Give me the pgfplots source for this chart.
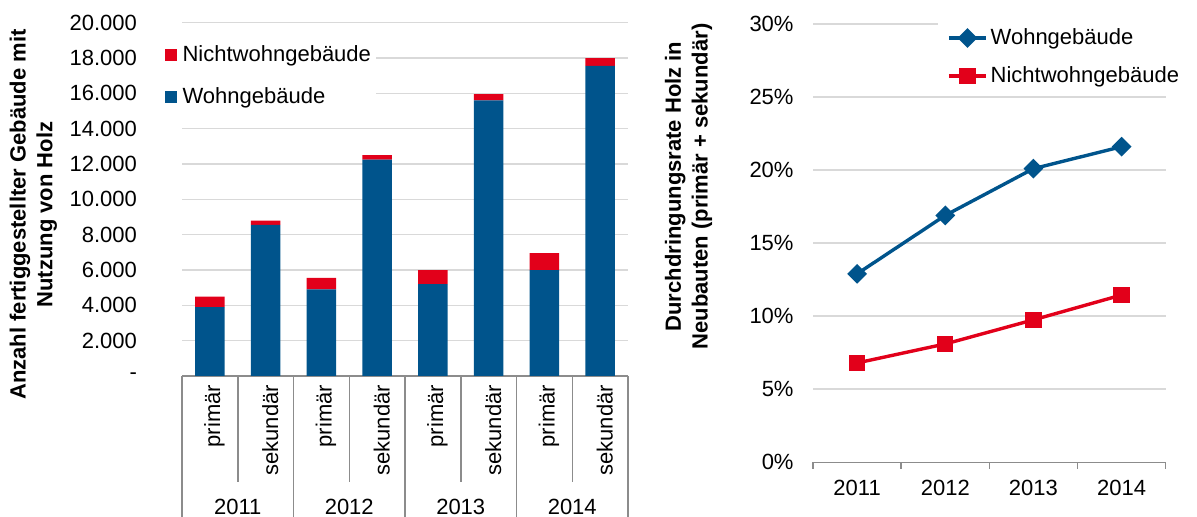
\documentclass[border=0pt]{standalone}
\usepackage{fontspec}
\setmainfont{Liberation Sans}
\usepackage{pgfplots}
\pgfplotsset{compat=1.18}
\definecolor{bblue}{RGB}{0,84,140}
\definecolor{rred}{RGB}{226,0,26}
\definecolor{gridc}{RGB}{217,217,217}
\definecolor{axc}{RGB}{140,140,140}

\begin{document}
\begin{tikzpicture}[font=\fontsize{11}{13}\selectfont]
\useasboundingbox (0,0) rectangle (598.5pt,258.5pt);

% ---------- left: stacked bars ----------
\begin{axis}[
  at={(91pt,70.5pt)}, anchor=south west,
  scale only axis, width=223pt, height=176.65pt,
  xmin=-0.5, xmax=7.5, ymin=0, ymax=20000,
  ybar stacked, bar width=14.75pt,
  axis x line*=bottom, axis y line*=left,
  x axis line style={draw=axc, line width=0.75pt, -},
  y axis line style={draw=none},
  major tick length=0pt,
  scaled y ticks=false,
  xtick={0,...,7},
  xticklabels={primär,sekundär,primär,sekundär,primär,sekundär,primär,sekundär},
  xticklabel style={rotate=90, anchor=east, yshift=-2.3pt, xshift=-1pt},
  ytick={0,2000,...,20000},
  yticklabels={-\hspace{6pt},2.000,4.000,6.000,8.000,10.000,12.000,14.000,16.000,18.000,20.000},
  yticklabel style={xshift=-19pt},
  ymajorgrids, grid style={draw=gridc, line width=0.75pt},
  clip=false,
  legend image code/.code={\path[#1, draw=none] (0pt,-2.9pt) rectangle (5.8pt,2.9pt);},
  reverse legend, legend cell align=left,
  legend style={at={(-0.0493,0.951)}, anchor=north west, draw=none, fill=white,
    inner sep=2.5pt, row sep=11.5pt, nodes={inner sep=0pt},
    /tikz/every odd column/.append style={column sep=2.8pt}},
]
\addplot[fill=bblue, draw=none] coordinates {(0,3900) (1,8550) (2,4900) (3,12250) (4,5200) (5,15600) (6,6000) (7,17550)};
\addlegendentry{Wohngebäude}
\addplot[fill=rred, draw=none] coordinates {(0,600) (1,250) (2,650) (3,250) (4,800) (5,350) (6,950) (7,450)};
\addlegendentry{Nichtwohngebäude}
\pgfplotsinvokeforeach{-0.5,1.5,3.5,5.5,7.5}{\draw[axc, line width=0.75pt] (axis cs:#1,0) -- ([yshift=-71pt]axis cs:#1,0);}
\pgfplotsinvokeforeach{0.5,2.5,4.5,6.5}{\draw[axc, line width=0.75pt] (axis cs:#1,0) -- ([yshift=-52.85pt]axis cs:#1,0);}
\node[anchor=base] at ([yshift=-69.2pt]axis cs:0.5,0) {2011};
\node[anchor=base] at ([yshift=-69.2pt]axis cs:2.5,0) {2012};
\node[anchor=base] at ([yshift=-69.2pt]axis cs:4.5,0) {2013};
\node[anchor=base] at ([yshift=-69.2pt]axis cs:6.5,0) {2014};
\end{axis}

\node[rotate=90, align=center, font=\bfseries\fontsize{11}{13.35}\selectfont] at (16.7pt,151.25pt)
  {Anzahl fertiggestellter Gebäude mit\\Nutzung von Holz};

% ---------- right: lines ----------
\begin{axis}[
  at={(406.5pt,27.35pt)}, anchor=south west,
  scale only axis, width=176.35pt, height=219.15pt,
  xmin=-0.5, xmax=3.5, ymin=0, ymax=30,
  axis x line*=bottom, axis y line*=left,
  x axis line style={draw=axc, line width=0.75pt, -},
  y axis line style={draw=none},
  major tick length=0pt,
  xtick={0,1,2,3},
  xticklabels={2011,2012,2013,2014},
  xticklabel style={yshift=-5.3pt},
  extra x ticks={-0.5,0.5,1.5,2.5,3.5},
  extra x tick labels={},
  extra x tick style={tick align=outside, major tick length=3.3pt,
    tick style={draw=axc, line width=0.75pt}},
  ytick={0,5,...,30},
  yticklabels={0\%,5\%,10\%,15\%,20\%,25\%,30\%},
  yticklabel style={xshift=-6.2pt},
  ymajorgrids, grid style={draw=gridc, line width=0.75pt},
  clip=false,
  legend image code/.code={\draw[mark repeat=2,mark phase=2,#1] plot coordinates {(0pt,0pt) (9.25pt,0pt) (18.5pt,0pt)};},
  legend cell align=left,
  legend style={at={(0.354,1.011)}, anchor=north west, draw=none, fill=white,
    inner sep=4.5pt, row sep=9.5pt, nodes={inner sep=0pt},
    /tikz/every odd column/.append style={column sep=1.5pt}},
]
\addplot[bblue, line width=1.7pt, mark=square*, mark size=2.65pt, mark options={rotate=45, solid}] coordinates {(0,12.9) (1,16.9) (2,20.1) (3,21.6)};
\addlegendentry{Wohngebäude}
\addplot[rred, line width=1.7pt, mark=square*, mark size=3.25pt, mark options={solid}] coordinates {(0,6.8) (1,8.1) (2,9.75) (3,11.45)};
\addlegendentry{Nichtwohngebäude}
\end{axis}

\node[rotate=90, align=center, font=\bfseries\fontsize{11}{13.35}\selectfont] at (344.25pt,165.25pt)
  {Durchdringungsrate Holz in\\Neubauten (primär + sekundär)};
\end{tikzpicture}
\end{document}
